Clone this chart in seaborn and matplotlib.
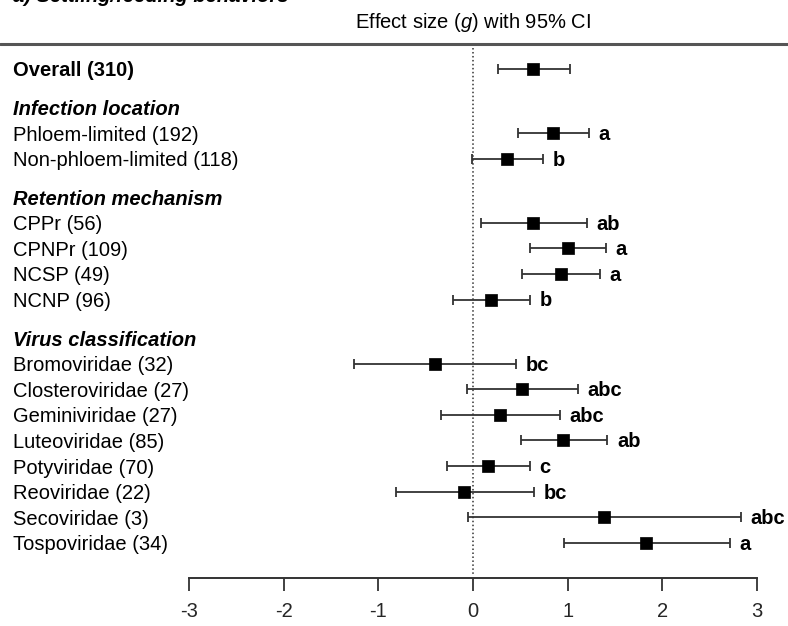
import matplotlib
matplotlib.use("Agg")
import matplotlib.pyplot as plt
import matplotlib.transforms as mtransforms
import seaborn as sns
import pandas as pd
import numpy as np

# ---------------- data ----------------
overall_label = "Overall (310)"
overall_effect = 0.63
overall_lower = 0.26
overall_upper = 1.02

group_names = ["Infection location", "Retention mechanism", "Virus classification"]

infection_labels = ["Phloem-limited (192)", "Non-phloem-limited (118)"]
infection_effect = [0.84, 0.36]
infection_lower = [0.48, -0.01]
infection_upper = [1.22, 0.74]
infection_letters = ["a", "b"]

retention_labels = ["CPPr (56)", "CPNPr (109)", "NCSP (49)", "NCNP (96)"]
retention_effect = [0.63, 1.00, 0.93, 0.19]
retention_lower = [0.08, 0.60, 0.52, -0.21]
retention_upper = [1.20, 1.40, 1.34, 0.60]
retention_letters = ["ab", "a", "a", "b"]

virus_labels = ["Bromoviridae (32)", "Closteroviridae (27)", "Geminiviridae (27)",
                "Luteoviridae (85)", "Potyviridae (70)", "Reoviridae (22)",
                "Secoviridae (3)", "Tospoviridae (34)"]
virus_effect = [-0.40, 0.52, 0.29, 0.95, 0.16, -0.09, 1.38, 1.83]
virus_lower = [-1.26, -0.06, -0.34, 0.51, -0.27, -0.81, -0.05, 0.96]
virus_upper = [0.45, 1.11, 0.92, 1.42, 0.60, 0.64, 2.83, 2.71]
virus_letters = ["bc", "abc", "abc", "ab", "c", "bc", "abc", "a"]

x_ticks = [-3, -2, -1, 0, 1, 2, 3]
title_text = "a) Settling/feeding behaviors"
axis_title = "Effect size ($\\mathit{g}$) with 95% CI"

# ---------------- layout of rows ----------------
groups = [
    (infection_labels, infection_effect, infection_lower, infection_upper, infection_letters),
    (retention_labels, retention_effect, retention_lower, retention_upper, retention_letters),
    (virus_labels, virus_effect, virus_lower, virus_upper, virus_letters),
]

rows = []
headers = []
pos = 0.0
rows.append(dict(label=overall_label, effect=overall_effect, lower=overall_lower,
                 upper=overall_upper, letter="", row=pos, bold=True))
for gname, (labs, eff, lo, up, let) in zip(group_names, groups):
    pos += 1.5
    headers.append((gname, pos))
    for l, e, a, b, t in zip(labs, eff, lo, up, let):
        pos += 1.0
        rows.append(dict(label=l, effect=e, lower=a, upper=b, letter=t, row=pos, bold=False))

df = pd.DataFrame(rows)

# ---------------- figure ----------------
sns.set_theme(style="white")
plt.rcParams["font.family"] = ["Liberation Sans", "DejaVu Sans"]
plt.rcParams["axes.unicode_minus"] = False
plt.rcParams["mathtext.fontset"] = "custom"
plt.rcParams["mathtext.it"] = "Liberation Sans:italic"
plt.rcParams["mathtext.rm"] = "Liberation Sans"

W, H = 788, 626
fig = plt.figure(figsize=(W / 100, H / 100), dpi=100)
ax = fig.add_axes([0, 0, 1, 1])

FS = 14.5
px_per_unit = 94.7
x0_px = 473
px_per_row = 25.62
row0_px = 69

ax.errorbar(df["effect"], df["row"],
            xerr=[df["effect"] - df["lower"], df["upper"] - df["effect"]],
            fmt="none", ecolor="#333333", elinewidth=1.3, capsize=3.6,
            capthick=1.3, zorder=2)
sns.scatterplot(data=df, x="effect", y="row", marker="s", s=66, color="black",
                edgecolor="black", linewidth=0.5, ax=ax, legend=False, zorder=3)

ax.set_xlim(-x0_px / px_per_unit, (W - x0_px) / px_per_unit)
ax.set_ylim((H - row0_px) / px_per_row, -row0_px / px_per_row)

def yrow(py):
    return (py - row0_px) / px_per_row

# dotted zero line
ax.vlines(0, yrow(48), yrow(576), colors="#333333", linestyles=(0, (1, 1.6)), lw=1.1, zorder=1)

# header rule
ax.axhline(yrow(44), color="#555555", lw=2.2, zorder=1)

# labels
tl = mtransforms.blended_transform_factory(ax.transAxes, ax.transData)
tl = mtransforms.offset_copy(tl, fig=fig, x=0, y=-2, units="dots")
lx = 13 / W
for _, r in df.iterrows():
    ax.text(lx, r["row"], r["label"], transform=tl, ha="left", va="center",
            fontsize=FS, fontweight="bold" if r["bold"] else "normal", color="black")
    if r["letter"]:
        ax.annotate(r["letter"], xy=(r["upper"], r["row"]), xytext=(7, -1),
                    textcoords="offset points", ha="left", va="center",
                    fontsize=FS, fontweight="bold", color="black")
for gname, hpos in headers:
    ax.text(lx, hpos, gname, transform=tl, ha="left", va="center",
            fontsize=FS, fontweight="bold", fontstyle="italic", color="black")

ax.text(0, yrow(22), axis_title, ha="center", va="center", fontsize=FS, color="black")
fig.text(lx, 1 - 2.5 / H, title_text, ha="left", va="baseline",
         fontsize=FS, fontweight="bold", fontstyle="italic", color="black")

# bottom axis
for s in ["left", "right", "top"]:
    ax.spines[s].set_visible(False)
ax.spines["bottom"].set_position(("data", yrow(578)))
ax.spines["bottom"].set_bounds(-3, 3)
ax.spines["bottom"].set_color("#333333")
ax.spines["bottom"].set_linewidth(1.4)
ax.set_xticks(x_ticks)
ax.set_xticklabels([str(t) for t in x_ticks])
ax.tick_params(axis="x", direction="out", length=9, width=1.3, color="#333333",
               labelsize=FS, pad=8, bottom=True)
ax.set_yticks([])
ax.set_xlabel("")
ax.set_ylabel("")

fig.savefig("out.png", dpi=100)
